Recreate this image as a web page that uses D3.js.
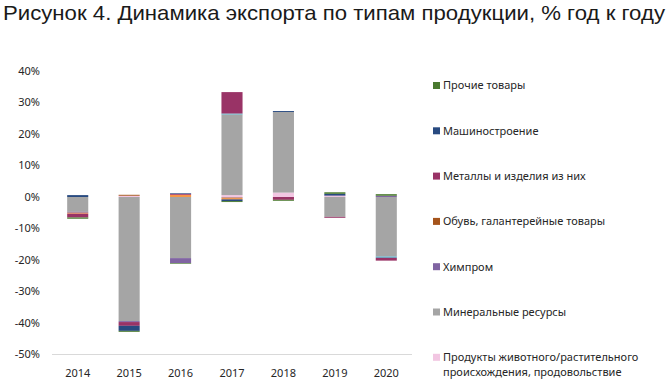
<!DOCTYPE html>
<html>
<head>
<meta charset="utf-8">
<title>Динамика экспорта по типам продукции</title>
<style>
body {
  margin: 0;
  background: #fff;
}

svg {
  display: block;
  font-family: 'Noto Sans', sans-serif;
}

.axis text {
  font-size: 11px;
  fill: #262626;
}

.legend text {
  font-size: 11px;
  fill: #262626;
}
</style>
<script src="https://d3js.org/d3.v7.min.js"></script>
</head>
<body>
<script>
const years = ['2014', '2015', '2016', '2017', '2018', '2019', '2020'];

// series in stacking order, first one sits next to zero
const seriesNames = [
  'Продукты животного/растительного происхождения, продовольствие',
  'Минеральные ресурсы',
  'Химпром',
  'Древесина',
  'Обувь, галантерейные товары',
  'Драгоценные камни',
  'Металлы и изделия из них',
  'Машиностроение',
  'Прочие товары'
];

const food      = [0.0, 0.4, 0.0, 0.6, 1.4, 0.3, 0.0];
const minerals  = [-4.7, -39.4, -19.4, 25.6, 25.6, -6.3, -18.9];
const chem      = [-0.3, -0.3, -1.6, -0.2, 0.0, 0.2, 0.4];
const wood      = [-0.3, 0.0, 0.7, -0.4, 0.0, 0.0, 0.0];
const shoes     = [0.0, 0.3, 0.0, -0.2, 0.0, 0.0, 0.0];
const gems      = [0.0, 0.0, 0.0, 0.3, 0.0, 0.0, -0.4];
const metals    = [-1.2, -1.2, 0.3, 6.8, -0.9, -0.3, -0.9];
const machinery = [0.6, -1.6, 0.2, -0.5, 0.3, 0.5, 0.0];
const other     = [-0.4, -0.3, -0.2, -0.3, -0.3, 0.5, 0.5];

const seriesValues = [food, minerals, chem, wood, shoes, gems, metals, machinery, other];

const colors = ['#f2c6e2', '#a5a5a5', '#8064a2', '#f79646', '#a5541b', '#4bacc6', '#993366', '#284a80', '#4a7a2f'];

// legend entries as shown (top to bottom)
const legendItems = [
  {name: 'Прочие товары', lines: ['Прочие товары']},
  {name: 'Машиностроение', lines: ['Машиностроение']},
  {name: 'Металлы и изделия из них', lines: ['Металлы и изделия из них']},
  {name: 'Обувь, галантерейные товары', lines: ['Обувь, галантерейные товары']},
  {name: 'Химпром', lines: ['Химпром']},
  {name: 'Минеральные ресурсы', lines: ['Минеральные ресурсы']},
  {name: 'Продукты животного/растительного происхождения, продовольствие',
   lines: ['Продукты животного/растительного', 'происхождения, продовольствие']}
];

const yTicks = [0.4, 0.3, 0.2, 0.1, 0, -0.1, -0.2, -0.3, -0.4, -0.5];

const width = 670,
  height = 386;

const svg = d3.select('body').append('svg')
  .attr('width', width)
  .attr('height', height);

svg.append('text')
  .attr('x', 3)
  .attr('y', 19.5)
  .attr('textLength', 662)
  .attr('lengthAdjust', 'spacingAndGlyphs')
  .style('font-family', "'Liberation Sans', Arial, sans-serif")
  .style('font-size', '21px')
  .style('fill', '#1a1a1a')
  .text('Рисунок 4. Динамика экспорта по типам продукции, % год к году');

const x = d3.scaleBand()
  .domain(years)
  .range([52, 412])
  .paddingInner(0.59)
  .paddingOuter(0.295);

const y = d3.scaleLinear()
  .domain([-0.5, 0.4])
  .range([354.5, 71]);

// build stacked rectangles: positives and negatives separately, as Excel does
const rects = [];
years.forEach((yr, i) => {
  let pos = 0, neg = 0;
  seriesValues.forEach((vals, s) => {
    const v = vals[i] / 100;
    if (v === 0) return;
    if (v > 0) {
      rects.push({year: yr, s: s, y0: pos, y1: pos + v});
      pos += v;
    } else {
      rects.push({year: yr, s: s, y0: neg + v, y1: neg});
      neg += v;
    }
  });
});

svg.append('g')
  .attr('class', 'bars')
  .selectAll('rect')
  .data(rects)
  .enter().append('rect')
    .attr('x', d => x(d.year))
    .attr('width', x.bandwidth())
    .attr('y', d => y(d.y1))
    .attr('height', d => y(d.y0) - y(d.y1))
    .style('fill', d => colors[d.s]);

// category axis line at the bottom
svg.append('line')
  .attr('x1', 52)
  .attr('x2', 412)
  .attr('y1', y(-0.5))
  .attr('y2', y(-0.5))
  .style('stroke', '#d9d9d9')
  .style('stroke-width', 1);

const yAxis = svg.append('g')
  .attr('class', 'axis')
  .selectAll('text')
  .data(yTicks)
  .enter().append('text')
    .attr('x', 40)
    .attr('y', d => y(d))
    .attr('dy', '0.35em')
    .style('text-anchor', 'end')
    .text(d => d3.format('.0%')(d).replace('−', '-'));

svg.append('g')
  .attr('class', 'axis')
  .selectAll('text')
  .data(years)
  .enter().append('text')
    .attr('x', d => x(d) + x.bandwidth() / 2)
    .attr('y', 377)
    .style('text-anchor', 'middle')
    .text(d => d);

const legend = svg.append('g')
  .attr('class', 'legend')
  .selectAll('g')
  .data(legendItems)
  .enter().append('g')
    .attr('transform', (d, i) => 'translate(433,' + (85.5 + i * 45.3) + ')');

legend.append('rect')
  .attr('x', 0)
  .attr('y', -3.5)
  .attr('width', 7)
  .attr('height', 7)
  .style('fill', d => colors[seriesNames.indexOf(d.name)]);

legend.append('text')
  .attr('x', 10)
  .attr('dy', '0.35em')
  .selectAll('tspan')
  .data(d => d.lines)
  .enter().append('tspan')
    .attr('x', 10)
    .attr('dy', (d, i) => i === 0 ? '0.35em' : '1.35em')
    .text(d => d);
</script>
</body>
</html>
